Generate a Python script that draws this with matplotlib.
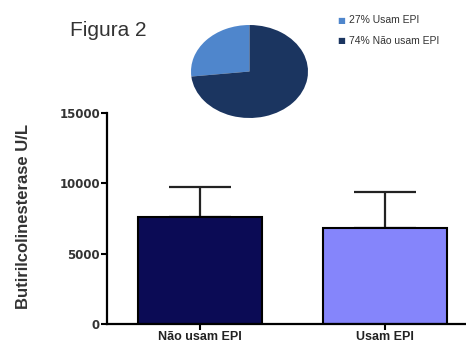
import matplotlib.pyplot as plt

# -------- data --------
groups = ['Não usam EPI', 'Usam EPI']
means = [7600, 6800]
sd_upper = [2150, 2600]
bar_colors = ['#0b0b55', '#8585fb']

pie_labels = ['27% Usam EPI', '74% Não usam EPI']
pie_values = [27, 74]
pie_colors = ['#4f86cc', '#1b3560']

yticks = [0, 5000, 10000, 15000]

plt.rcParams['font.family'] = ['Liberation Sans', 'DejaVu Sans']

fig = plt.figure(figsize=(4.66, 3.45), dpi=100)

# -------- bar chart --------
ax = fig.add_axes([107 / 466, 21 / 345, 359 / 466, 211 / 345])
x = list(range(len(groups)))
ax.bar(x, means, width=0.67, color=bar_colors, edgecolor='black', linewidth=1.5, zorder=2)
ax.errorbar(x, means, yerr=[[0] * len(means), sd_upper], fmt='none',
            ecolor='#222222', elinewidth=1.6, capsize=22, capthick=1.6, zorder=1)
ax.set_xlim(-0.503, 1.438)
ax.set_ylim(0, 15000)
ax.set_yticks(yticks)
ax.set_yticklabels([str(t) for t in yticks], fontsize=8.5, fontweight='bold',
                   color='#333333', family=['DejaVu Sans'])
ax.set_xticks(x)
ax.set_xticklabels(groups, fontsize=9, fontweight='bold', color='#222222')
ax.tick_params(axis='both', width=1.5, length=4, pad=1)
for s in ['top', 'right']:
    ax.spines[s].set_visible(False)
for s in ['left', 'bottom']:
    ax.spines[s].set_linewidth(1.6)
ax.set_ylabel('Butirilcolinesterase U/L', fontsize=12, fontweight='bold', color='#333333')
ax.yaxis.set_label_coords(-0.212, 0.51)

# -------- pie inset --------
pax = fig.add_axes([191 / 466, (345 - 118) / 345, 117 / 466, 93 / 345])
pax.pie(pie_values, colors=pie_colors, startangle=90, counterclock=True,
        wedgeprops=dict(linewidth=0))
pax.set_aspect('auto')
pax.set_xlim(-1.0, 1.0)
pax.set_ylim(-1.0, 1.0)

# legend for the pie
for i, (lab, col) in enumerate(zip(pie_labels, pie_colors)):
    yy = 1 - (20 + 21 * i) / 345
    fig.text(341 / 466, yy, '■', color=col, fontsize=6, ha='center', va='center',
             family=['DejaVu Sans'])
    fig.text(349 / 466, yy, lab, fontsize=7.5, color='#333333', va='center')

fig.text(108 / 466, 1 - 30 / 345, 'Figura 2', fontsize=15, color='#333333', ha='center', va='center')

fig.savefig('out.png', dpi=100)
